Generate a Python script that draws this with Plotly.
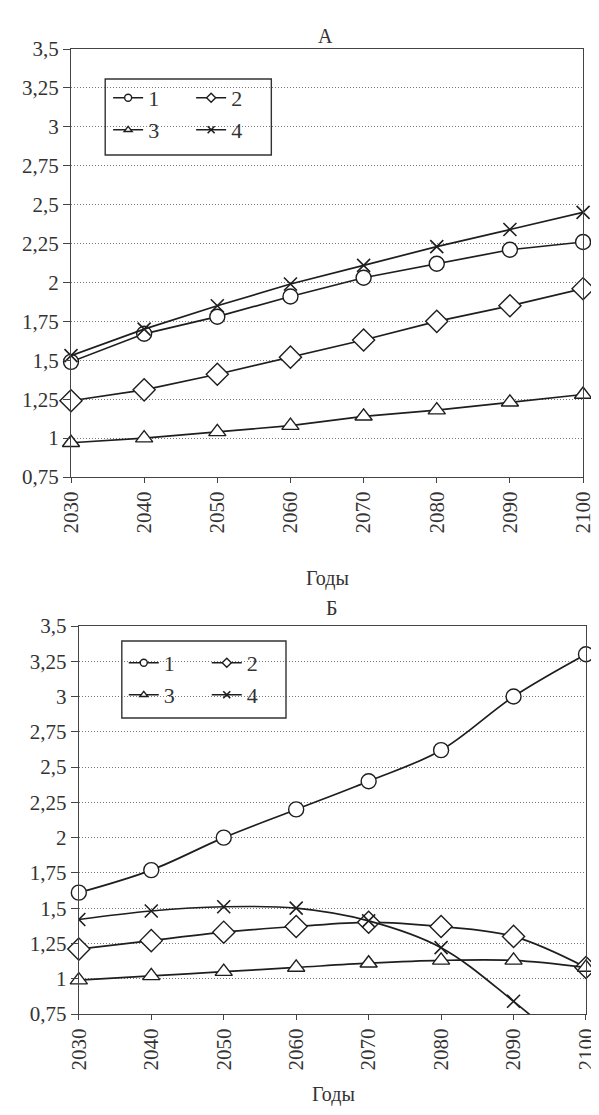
import plotly.graph_objects as go

# ---------------- data ----------------
years = [2030, 2040, 2050, 2060, 2070, 2080, 2090, 2100]
series_names = ["1", "2", "3", "4"]

# Panel A
a_s1 = [1.49, 1.67, 1.78, 1.91, 2.03, 2.12, 2.21, 2.26]
a_s2 = [1.24, 1.31, 1.41, 1.52, 1.63, 1.75, 1.85, 1.96]
a_s3 = [0.97, 1.00, 1.04, 1.08, 1.14, 1.18, 1.23, 1.28]
a_s4 = [1.53, 1.70, 1.85, 1.99, 2.11, 2.23, 2.34, 2.45]

# Panel B
b_s1 = [1.61, 1.77, 2.00, 2.20, 2.40, 2.62, 3.00, 3.30]
b_s2 = [1.21, 1.27, 1.33, 1.37, 1.40, 1.37, 1.30, 1.08]
b_s3 = [0.99, 1.02, 1.05, 1.08, 1.11, 1.13, 1.13, 1.08]
b_s4 = [1.42, 1.48, 1.51, 1.50, 1.41, 1.22, 0.84, 0.40]

y_tickvals = [0.75, 1.0, 1.25, 1.5, 1.75, 2.0, 2.25, 2.5, 2.75, 3.0, 3.25, 3.5]
y_ticktext = ["0,75", "1", "1,25", "1,5", "1,75", "2", "2,25", "2,5", "2,75", "3", "3,25", "3,5"]
x_tickvals = years
x_ticktext = [str(y) for y in years]

panel_titles = ["А", "Б"]
x_title = "Годы"

# ---------------- styles ----------------
FONT = "Liberation Serif, Times New Roman, serif"
INK = "#1e1e1e"
symbols = ["circle", "diamond", "triangle-up", "x-thin"]
sizes = [15, 17, 15, 13]

# pixel geometry -> paper coordinates
W, H = 599, 1115
L, R, T, B = 63, 9, 41, 109
PW, PH = W - L - R, H - T - B


def px(x):
    return (x - L) / PW


def py(y):
    return (H - B - y) / PH


fig = go.Figure()


def marker_for(i, size):
    if symbols[i] == "x-thin":
        return dict(symbol="x-thin", size=size, color=INK,
                    line=dict(color=INK, width=1.6))
    return dict(symbol=symbols[i], size=size, color="white",
                line=dict(color=INK, width=1.4))


def add_panel(data, xa, ya, shape, legends, clip_last=False):
    for i, vals in enumerate(data):
        clip = clip_last and i == 3
        fig.add_trace(go.Scatter(
            x=years, y=vals, mode="lines+markers",
            line=dict(color=INK, width=1.7, shape=shape, smoothing=1.0),
            marker=marker_for(i, sizes[i]),
            xaxis=xa, yaxis=ya, showlegend=False,
            cliponaxis=clip, name=series_names[i]))
    # legend entries (small symbols, 2 rows x 2 columns)
    for i in range(4):
        fig.add_trace(go.Scatter(
            x=[None], y=[None], mode="lines+markers",
            line=dict(color=INK, width=1.4),
            marker=marker_for(i, 7),
            xaxis=xa, yaxis=ya, name=series_names[i],
            legend=legends[i // 2], showlegend=True))


add_panel([a_s1, a_s2, a_s3, a_s4], "x", "y", "linear", ["legend", "legend2"])
add_panel([b_s1, b_s2, b_s3, b_s4], "x2", "y2", "spline", ["legend3", "legend4"], clip_last=True)

TICKFONT = dict(family=FONT, size=21, color="#333")

axis_common_y = dict(
    range=[0.75, 3.5], tickmode="array", tickvals=y_tickvals, ticktext=y_ticktext,
    showgrid=True, gridcolor="#7a7a7a", griddash="1px,2px", gridwidth=1,
    showline=True, mirror=True, linecolor="#444", linewidth=1.3,
    ticks="outside", ticklen=7, tickcolor="#444", tickwidth=1,
    tickfont=TICKFONT, zeroline=False,
)
axis_common_x = dict(
    range=[2030, 2100], tickmode="array", tickvals=x_tickvals, ticktext=x_ticktext,
    tickangle=-90, showgrid=False,
    showline=True, mirror=True, linecolor="#444", linewidth=1.3,
    ticks="outside", ticklen=5, tickcolor="#444", tickwidth=1,
    tickfont=TICKFONT, zeroline=False,
)

legend_common = dict(orientation="h", font=dict(family=FONT, size=22, color="#333"),
                     bgcolor="rgba(0,0,0,0)", borderwidth=0, entrywidth=38,
                     itemwidth=30, xanchor="left", yanchor="middle", traceorder="normal")

fig.update_layout(
    width=W, height=H,
    margin=dict(l=L, r=R, t=T, b=B),
    paper_bgcolor="white", plot_bgcolor="white",
    xaxis=dict(domain=[0, px(587)], anchor="y", **axis_common_x),
    yaxis=dict(domain=[py(469), 1.0], anchor="x", **axis_common_y),
    xaxis2=dict(domain=[px(71), px(590)], anchor="y2", **axis_common_x),
    yaxis2=dict(domain=[0.0, py(618)], anchor="x2", **axis_common_y),
    legend=dict(x=px(101), y=py(90), **legend_common),
    legend2=dict(x=px(101), y=py(122), **legend_common),
    legend3=dict(x=px(117), y=py(655), **legend_common),
    legend4=dict(x=px(117), y=py(687), **legend_common),
    shapes=[
        dict(type="rect", xref="paper", yref="paper",
             x0=px(98), x1=px(268), y0=py(147), y1=py(71),
             line=dict(color="#333", width=1.4), fillcolor="rgba(0,0,0,0)"),
        dict(type="rect", xref="paper", yref="paper",
             x0=px(115), x1=px(283), y0=py(710), y1=py(633),
             line=dict(color="#333", width=1.4), fillcolor="rgba(0,0,0,0)"),
    ],
    annotations=[
        dict(text=panel_titles[0], xref="paper", yref="paper", x=px(323), y=py(15),
             showarrow=False, font=dict(family=FONT, size=20, color="#333")),
        dict(text=panel_titles[1], xref="paper", yref="paper", x=px(330), y=py(600),
             showarrow=False, font=dict(family=FONT, size=20, color="#333")),
        dict(text=x_title, xref="paper", yref="paper", x=px(325), y=py(570),
             showarrow=False, font=dict(family=FONT, size=20, color="#333")),
        dict(text=x_title, xref="paper", yref="paper", x=px(332), y=py(1100),
             showarrow=False, font=dict(family=FONT, size=20, color="#333")),
    ],
)

fig.write_html("out.html")
